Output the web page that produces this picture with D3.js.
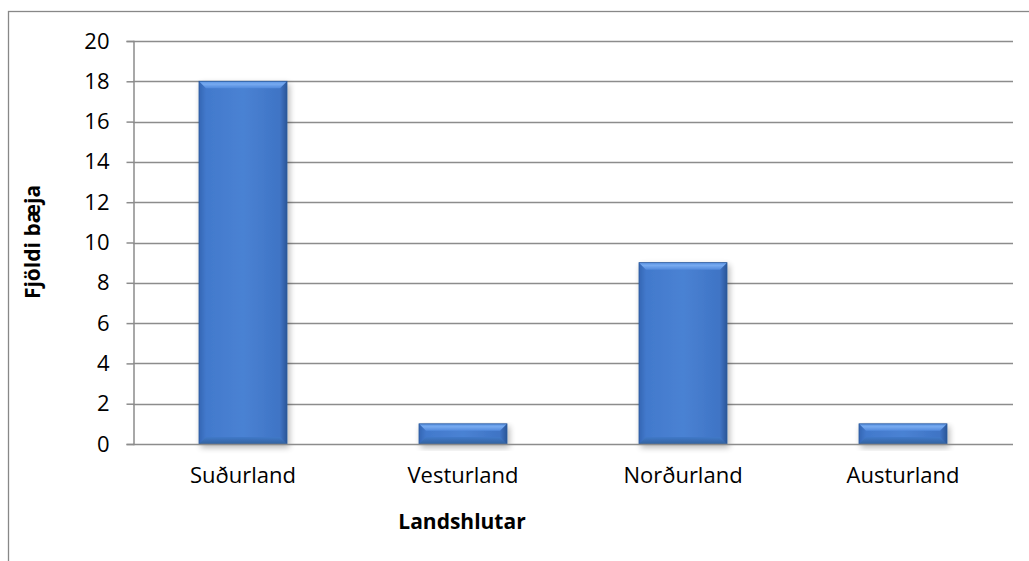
<!DOCTYPE html>
<html>
<head>
<meta charset="utf-8">
<script src="https://cdn.jsdelivr.net/npm/d3@7"></script>
<style>
  body { margin: 0; background: #fff; }
  svg { display: block; }
  text { font-family: "Open Sans", sans-serif; fill: #000; }
</style>
</head>
<body>
<svg id="chart" width="1029" height="561"></svg>
<script>
// Fjöldi bæja eftir landshlutum
const regions = ["Suðurland", "Vesturland", "Norðurland", "Austurland"];
const farmCounts = [18, 1, 9, 1];
const yTicks = [0, 2, 4, 6, 8, 10, 12, 14, 16, 18, 20];

const FONT = "'Open Sans', sans-serif";
const svg = d3.select("#chart");
const plot = { left: 133, right: 1013, top: 41, bottom: 444 };

// outer chart frame
svg.append("rect")
  .attr("x", 8.5).attr("y", 11.5)
  .attr("width", 1040).attr("height", 600)
  .attr("fill", "none").attr("stroke", "#888").attr("stroke-width", 1.3);

const x = d3.scaleBand().domain(regions).range([plot.left, plot.right]).paddingInner(0.6).paddingOuter(0.3);
const y = d3.scaleLinear().domain([0, 20]).range([plot.bottom, plot.top]);

const defs = svg.append("defs");
const side = defs.append("linearGradient").attr("id", "barSide").attr("x1", 0).attr("x2", 1).attr("y1", 0).attr("y2", 0);
side.append("stop").attr("offset", "0%").attr("stop-color", "#3466b4");
side.append("stop").attr("offset", "8%").attr("stop-color", "#4279cc");
side.append("stop").attr("offset", "50%").attr("stop-color", "#4a82d3");
side.append("stop").attr("offset", "92%").attr("stop-color", "#3f74c5");
side.append("stop").attr("offset", "100%").attr("stop-color", "#2a5698");

const topG = defs.append("linearGradient").attr("id", "barTop").attr("x1", 0).attr("x2", 0).attr("y1", 0).attr("y2", 1);
topG.append("stop").attr("offset", "0%").attr("stop-color", "#5a93e3");
topG.append("stop").attr("offset", "40%").attr("stop-color", "#77aaf0");
topG.append("stop").attr("offset", "100%").attr("stop-color", "#5189dc");

const botG = defs.append("linearGradient").attr("id", "barBottom").attr("x1", 0).attr("x2", 0).attr("y1", 0).attr("y2", 1);
botG.append("stop").attr("offset", "0%").attr("stop-color", "#4079c9");
botG.append("stop").attr("offset", "100%").attr("stop-color", "#33629f");

const shadow = defs.append("filter").attr("id", "shadow").attr("x", "-20%").attr("y", "-20%").attr("width", "150%").attr("height", "150%");
shadow.append("feGaussianBlur").attr("in", "SourceAlpha").attr("stdDeviation", 3);
shadow.append("feOffset").attr("dx", 2).attr("dy", 3).attr("result", "b");
shadow.append("feComponentTransfer").append("feFuncA").attr("type", "linear").attr("slope", 0.3);
const merge = shadow.append("feMerge");
merge.append("feMergeNode");
merge.append("feMergeNode").attr("in", "SourceGraphic");

// horizontal gridlines
svg.append("g").selectAll("line").data(yTicks.filter(d => d > 0)).join("line")
  .attr("x1", plot.left).attr("x2", plot.right)
  .attr("y1", d => Math.round(y(d)) + 0.5).attr("y2", d => Math.round(y(d)) + 0.5)
  .attr("stroke", "#8c8c8c").attr("stroke-width", 1.5);

// y axis
const yAxis = svg.append("g").attr("transform", `translate(${plot.left + 0.5},0)`)
  .call(d3.axisLeft(y).tickValues(yTicks).tickSize(7).tickPadding(17));
yAxis.select(".domain").attr("stroke", "#8c8c8c").attr("stroke-width", 1.5);
yAxis.selectAll(".tick line").attr("stroke", "#8c8c8c").attr("stroke-width", 1.5);
yAxis.selectAll(".tick text").attr("font-size", 22).attr("font-family", FONT).attr("fill", "#000");

// bars with bevelled edges
const bevel = 7;
const bars = svg.append("g").selectAll("g").data(regions.map((r, i) => ({ r, v: farmCounts[i] }))).join("g")
  .attr("filter", "url(#shadow)");
bars.append("rect")
  .attr("x", d => x(d.r)).attr("y", d => y(d.v))
  .attr("width", x.bandwidth()).attr("height", d => y(0) - y(d.v))
  .attr("fill", "url(#barSide)");
bars.append("path")
  .attr("d", d => {
    const x0 = x(d.r), x1 = x0 + x.bandwidth(), y0 = y(d.v);
    const b = Math.min(bevel, (y(0) - y0) / 2);
    return `M${x0},${y0}L${x1},${y0}L${x1 - b},${y0 + b}L${x0 + b},${y0 + b}Z`;
  })
  .attr("fill", "url(#barTop)");
bars.append("path")
  .attr("d", d => {
    const x0 = x(d.r), x1 = x0 + x.bandwidth(), y0 = y(d.v), yb = y(0);
    const b = Math.min(bevel, (yb - y0) / 2);
    return `M${x0},${yb}L${x1},${yb}L${x1 - b},${yb - b}L${x0 + b},${yb - b}Z`;
  })
  .attr("fill", "url(#barBottom)");
bars.append("rect")
  .attr("x", d => x(d.r)).attr("y", d => y(d.v))
  .attr("width", x.bandwidth()).attr("height", d => y(0) - y(d.v))
  .attr("fill", "none").attr("stroke", "#2c5a9c").attr("stroke-width", 0.8);

// x axis
const xAxis = svg.append("g").attr("transform", `translate(0,${plot.bottom + 0.5})`)
  .call(d3.axisBottom(x).tickSize(0).tickPadding(23));
xAxis.select(".domain").attr("stroke", "#8c8c8c").attr("stroke-width", 1.5)
  .attr("d", `M${plot.left},0H${plot.right}`);
xAxis.selectAll(".tick text").attr("font-size", 22).attr("font-family", FONT).attr("fill", "#000");

// axis titles
svg.append("text")
  .attr("transform", `translate(40,242) rotate(-90)`)
  .attr("text-anchor", "middle")
  .attr("font-size", 21).attr("font-weight", "bold")
  .text("Fjöldi bæja");
svg.append("text")
  .attr("x", 462).attr("y", 529)
  .attr("text-anchor", "middle")
  .attr("font-size", 21).attr("font-weight", "bold")
  .text("Landshlutar");
</script>
</body>
</html>
